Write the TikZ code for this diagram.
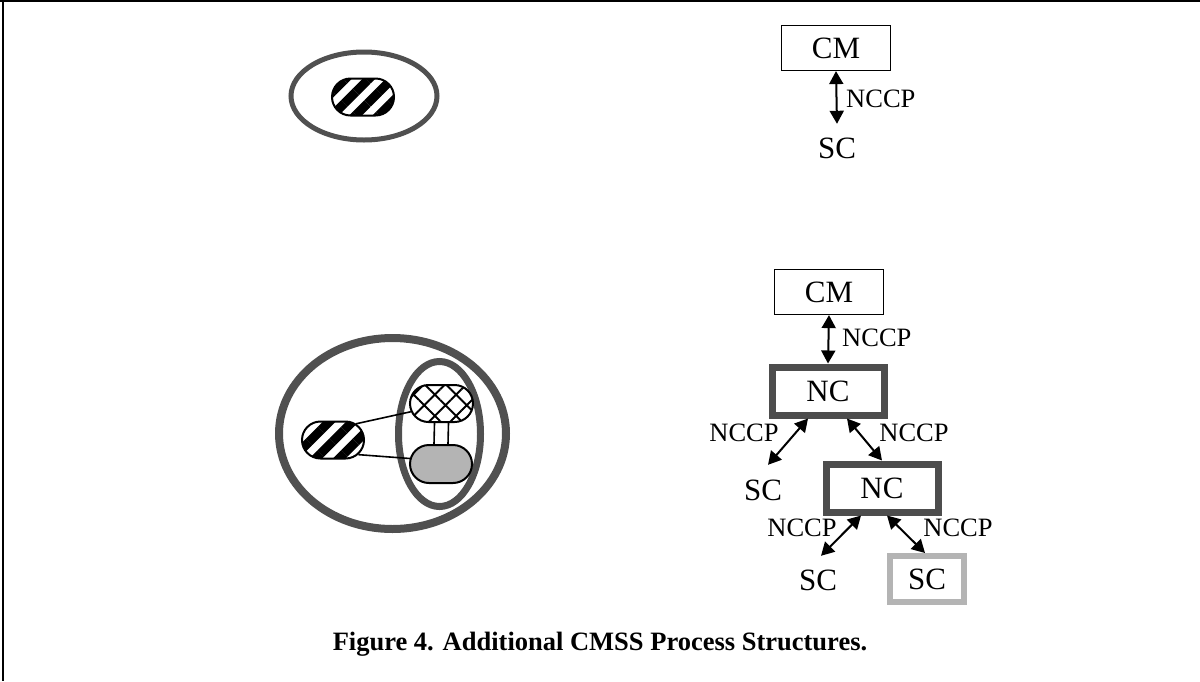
\documentclass[tikz,border=0pt]{standalone}
\usepackage{fontspec}
\setmainfont{Liberation Serif}
\usetikzlibrary{arrows.meta,shapes.misc,patterns.meta,calc}

\definecolor{ringgray}{HTML}{505050}
\definecolor{boxgray}{HTML}{4D4D4D}
\definecolor{lightgray}{HTML}{B4B4B4}

\tikzset{
  pill/.style={rounded rectangle, draw=black, line width=2pt, inner sep=0pt},
  striped/.style={pill, minimum width=62pt, minimum height=37pt,
    pattern={Lines[angle=45,distance=16.5pt,line width=9pt]}},
  hatched/.style={pill, minimum width=63pt, minimum height=37pt,
    pattern={Hatch[angle=45,distance=15pt,line width=2pt]}},
  shaded/.style={pill, minimum width=62pt, minimum height=38pt, fill=lightgray},
  big/.style={font=\fontsize{31}{35}\selectfont},
  small/.style={font=\fontsize{26.5}{30}\selectfont, inner sep=0pt},
  cmbox/.style={big, draw=black, line width=1.2pt, minimum width=109pt, minimum height=45pt, inner sep=0pt},
  ncbox/.style={big, draw=boxgray, line width=7pt, minimum width=112pt, minimum height=48pt, inner sep=0pt},
  scbox/.style={big, draw=lightgray, line width=6pt, minimum width=74pt, minimum height=46pt, inner sep=0pt},
  sctext/.style={big, inner sep=0pt, text height=20pt, text depth=0pt},
  link/.style={line width=1.6pt},
  both/.style={line width=2pt, {Triangle[length=13pt,width=14pt]}-{Triangle[length=13pt,width=14pt]}},
}

\begin{document}
\begin{tikzpicture}[x=1pt,y=-1pt]
  \useasboundingbox (0,0) rectangle (1200,681);
  % page frame (top and left rules)
  \draw[line width=2pt] (0,1) -- (1200,1);
  \draw[line width=2pt] (3,0) -- (3,681);

  % ---- simple process: one component inside a ring ----
  \draw[ringgray, line width=5pt] (364,96) ellipse [x radius=73, y radius=44];
  \node[striped] (sa) at (363,97) {};

  % ---- simple hierarchy: CM -- SC ----
  \node[cmbox] (cmA) at (836,48) {CM};
  \node[sctext] (scA) at (837,148) {SC};
  \draw[both] (cmA.south) -- ([yshift=14pt]scA.north);
  \node[small, anchor=west] (lA) at (846,99) {NCCP};

  % ---- nested process ----
  \draw[ringgray, line width=8pt] (392.5,433.5) ellipse [x radius=113.5, y radius=95.5];
  \draw[ringgray, line width=7pt] (439.5,434) ellipse [x radius=41, y radius=72.5];
  \node[striped] (sb) at (333,440) {};
  \node[hatched] (hb) at (441.5,403.5) {};
  \node[shaded] (gb) at (441,464) {};
  \draw[link] ([xshift=-7pt]hb.south) -- ([xshift=-7pt]gb.north);
  \draw[link] ([xshift=7pt]hb.south) -- ([xshift=7pt]gb.north);
  \draw[link] (sb.35) -- (hb.195);
  \draw[link] (sb.-30) -- (gb.170);

  % ---- nested hierarchy ----
  \node[cmbox] (cmB) at (829,292) {CM};
  \node[ncbox] (nc1) at (828,391) {NC};
  \node[ncbox] (nc2) at (882,488) {NC};
  \node[sctext] (scB) at (763,490) {SC};
  \node[sctext] (scC) at (818,580) {SC};
  \node[scbox] (scD) at (927,579) {SC};

  \draw[both] (cmB.south) -- (nc1.north);
  \node[small, anchor=west] (lB) at (842,338) {NCCP};

  \draw[both] ([xshift=-20pt]nc1.south) -- ([xshift=5pt,yshift=15pt]scB.north);
  \node[small] (lC) at (744,433) {NCCP};
  \draw[both] ([xshift=19pt]nc1.south) -- (nc2.north);
  \node[small] (lD) at (914,433) {NCCP};

  \draw[both] ([xshift=-21pt]nc2.south) -- ([xshift=3pt,yshift=14pt]scC.north);
  \node[small] (lE) at (802,528) {NCCP};
  \draw[both] ([xshift=5pt]nc2.south) -- ([xshift=-2pt]scD.north);
  \node[small] (lF) at (958,528) {NCCP};

  % ---- caption ----
  \node[anchor=base, font=\bfseries\fontsize{26.5}{30}\selectfont] (cap) at (600,650)
    {Figure 4. Additional CMSS Process Structures.};
\end{tikzpicture}
\end{document}
